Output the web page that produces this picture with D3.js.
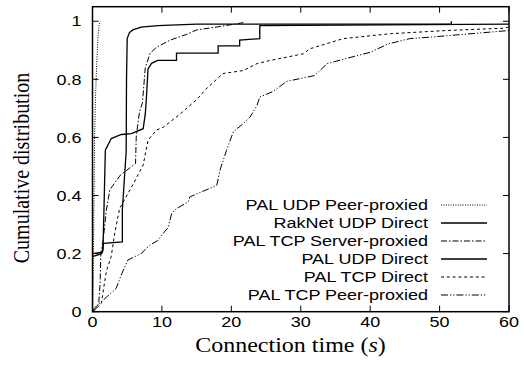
<!DOCTYPE html>
<html>
<head>
<meta charset="utf-8">
<script src="https://cdn.jsdelivr.net/npm/d3@7"></script>
<style>
  html, body { margin: 0; padding: 0; background: #fff; }
  svg { display: block; }
</style>
</head>
<body>
<svg id="chart" width="524" height="374"></svg>
<script>
// series data: [connection time (s), cumulative fraction]
var udpPeerProxied = [[0,0],[0.1,0.1],[0.2,0.35],[0.3,0.6],[0.45,0.75],[0.6,0.85],[0.8,0.95],[0.95,0.985],[1.1,1.0]];
var raknetUdpDirect = [[0,0.2],[1.4,0.205],[1.6,0.235],[4.3,0.24],[4.3,0.35],[4.6,0.46],[4.85,0.55],[4.9,0.8],[5.0,0.94],[5.3,0.96],[5.8,0.97],[7,0.98],[9.4,0.985],[15,0.99],[51.7,0.99],[51.7,1.0]];
var tcpServerProxied = [[0,0],[0.5,0.01],[0.9,0.03],[1.1,0.1],[1.2,0.2],[1.5,0.24],[2.0,0.35],[2.5,0.42],[4,0.47],[6.2,0.51],[6.3,0.6],[6.6,0.66],[6.8,0.69],[7.2,0.72],[7.6,0.84],[8.3,0.89],[9.2,0.91],[11.2,0.935],[13.6,0.955],[15,0.97],[17.9,0.98],[21.7,0.995],[22,1.0]];
var udpDirect = [[0,0.19],[1.3,0.2],[1.5,0.21],[1.65,0.35],[1.85,0.556],[2.7,0.596],[4.15,0.61],[5.6,0.613],[7.3,0.63],[7.6,0.68],[7.75,0.73],[8,0.836],[8.5,0.855],[9.4,0.865],[12.1,0.865],[12.1,0.89],[18.1,0.89],[18.1,0.915],[21.2,0.915],[21.2,0.935],[24.1,0.94],[24.1,0.985],[60,0.99]];
var tcpDirect = [[0,0],[0.5,0.01],[1.3,0.03],[1.6,0.08],[2.0,0.14],[2.7,0.19],[3.2,0.27],[3.9,0.355],[6.1,0.45],[7.3,0.505],[8,0.59],[9.2,0.625],[10.2,0.635],[12.6,0.68],[15,0.73],[16.5,0.77],[18.8,0.82],[21.7,0.83],[23.7,0.854],[25.6,0.865],[30.4,0.888],[31.3,0.905],[36.1,0.94],[42.9,0.957],[51,0.968],[59.2,0.976],[60,0.98]];
var tcpPeerProxied = [[0,0.005],[0.6,0.02],[2,0.05],[3.4,0.08],[4.2,0.13],[5.1,0.178],[7,0.2],[8.3,0.23],[9.4,0.245],[10.2,0.27],[10.9,0.29],[11.4,0.338],[12.1,0.355],[13.8,0.378],[14,0.395],[17.9,0.435],[18.4,0.49],[19.3,0.555],[20.3,0.62],[21.7,0.647],[22.7,0.67],[23.7,0.71],[24.1,0.739],[26,0.758],[28,0.793],[32,0.813],[33.8,0.854],[36.6,0.872],[40,0.893],[42.6,0.922],[45.7,0.94],[49.6,0.947],[60,0.968]];

var seriesNames = ["PAL UDP Peer-proxied", "RakNet UDP Direct", "PAL TCP Server-proxied", "PAL UDP Direct", "PAL TCP Direct", "PAL TCP Peer-proxied"];
var seriesData = [udpPeerProxied, raknetUdpDirect, tcpServerProxied, udpDirect, tcpDirect, tcpPeerProxied];
var xTicks = [0, 10, 20, 30, 40, 50, 60];
var yTicks = [0, 0.2, 0.4, 0.6, 0.8, 1];

var dashes = ["1,1.4", null, "6,2,1.5,2", null, "3,2.8", "7,2,1.2,2,1.2,2"];
var widths = [1, 1.3, 1, 1.3, 1, 1];

var svg = d3.select("#chart");
var stretch = 1.2; // figure is a bit wider than tall

var plotL = 92.5, plotR = 509, plotT = 6.7, plotB = 311.7;

var x = d3.scaleLinear().domain([0, 60]).range([plotL, plotR]);
var y = d3.scaleLinear().domain([0, 1.05]).range([plotB, plotT]);

var line = d3.line()
  .x(function(d) { return x(d[0]); })
  .y(function(d) { return y(d[1]); });

// curves
svg.append("g").selectAll("path")
  .data(seriesData)
  .enter().append("path")
  .attr("d", line)
  .attr("fill", "none")
  .attr("stroke", "#000")
  .attr("stroke-width", function(d, i) { return widths[i]; })
  .attr("stroke-dasharray", function(d, i) { return dashes[i]; });

// inward ticks on all four sides
var tk = 6;
var ticks = svg.append("g").attr("stroke", "#000").attr("stroke-width", 1);
xTicks.forEach(function(t) {
  ticks.append("line").attr("x1", x(t)).attr("x2", x(t)).attr("y1", plotB).attr("y2", plotB - tk);
  ticks.append("line").attr("x1", x(t)).attr("x2", x(t)).attr("y1", plotT).attr("y2", plotT + tk);
});
yTicks.forEach(function(t) {
  ticks.append("line").attr("x1", plotL).attr("x2", plotL + tk).attr("y1", y(t)).attr("y2", y(t));
  ticks.append("line").attr("x1", plotR).attr("x2", plotR - tk).attr("y1", y(t)).attr("y2", y(t));
});

// frame
svg.append("rect")
  .attr("x", plotL).attr("y", plotT)
  .attr("width", plotR - plotL).attr("height", plotB - plotT)
  .attr("fill", "none").attr("stroke", "#000").attr("stroke-width", 1.5);

// tick labels
svg.append("g").selectAll("text")
  .data(xTicks)
  .enter().append("text")
  .attr("transform", function(d) { return "translate(" + x(d) + "," + (plotB + 15) + ") scale(" + stretch + ",1)"; })
  .attr("text-anchor", "middle")
  .style("font", "15px 'Liberation Sans', Arial, sans-serif")
  .text(function(d) { return d; });

svg.append("g").selectAll("text")
  .data(yTicks)
  .enter().append("text")
  .attr("transform", function(d) { return "translate(" + (plotL - 11) + "," + y(d) + ") scale(" + stretch + ",1)"; })
  .attr("text-anchor", "end")
  .attr("dy", "0.35em")
  .style("font", "15px 'Liberation Sans', Arial, sans-serif")
  .text(function(d) { return d; });

// axis titles
var xt = svg.append("text")
  .attr("transform", "translate(" + 290.5 + ",352) scale(" + stretch + ",1)")
  .attr("text-anchor", "middle")
  .style("font", "20px 'Liberation Serif', 'Times New Roman', serif");
xt.append("tspan").text("Connection time (");
xt.append("tspan").style("font-style", "italic").text("s");
xt.append("tspan").text(")");

svg.append("text")
  .attr("transform", "translate(29,168) scale(" + stretch + ",1) rotate(-90)")
  .attr("text-anchor", "middle")
  .style("font", "20px 'Liberation Serif', 'Times New Roman', serif")
  .text("Cumulative distribution");

// legend
var legend = svg.append("g");
seriesNames.forEach(function(name, i) {
  var cy = 205 + i * 18;
  legend.append("text")
    .attr("transform", "translate(428," + (cy + 5.3) + ") scale(" + stretch + ",1)")
    .attr("text-anchor", "end")
    .style("font", "15px 'Liberation Sans', Arial, sans-serif")
    .text(name);
  legend.append("line")
    .attr("x1", 441).attr("x2", 487)
    .attr("y1", cy).attr("y2", cy)
    .attr("stroke", "#000")
    .attr("stroke-width", widths[i])
    .attr("stroke-dasharray", dashes[i]);
});
</script>
</body>
</html>
